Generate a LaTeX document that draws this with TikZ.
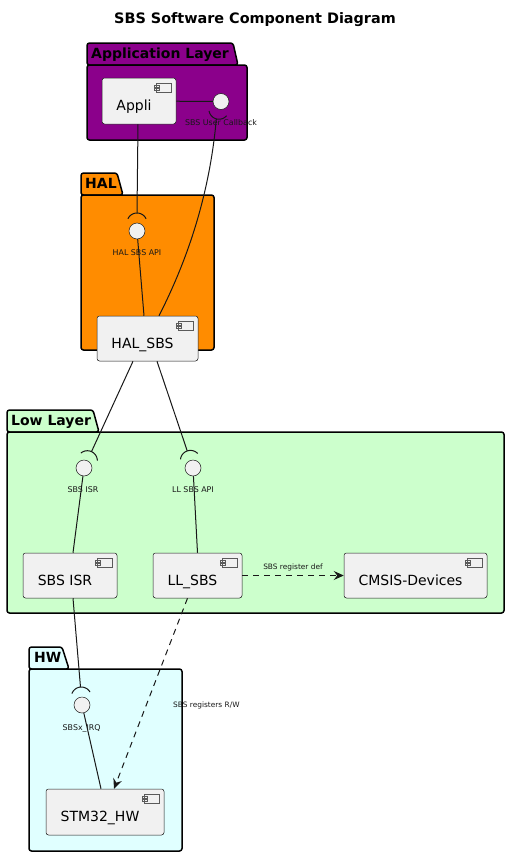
\documentclass[tikz,border=0pt]{standalone}
\usepackage{fontspec}
\setmainfont{DejaVu Sans}
\usetikzlibrary{arrows.meta,calc}
\definecolor{pkgpurple}{HTML}{8B008B}
\definecolor{pkgorange}{HTML}{FF8C00}
\definecolor{pkggreen}{HTML}{CCFFCC}
\definecolor{pkgcyan}{HTML}{E0FFFF}
\definecolor{boxfill}{HTML}{F1F1F1}
\definecolor{ink}{HTML}{181818}
\definecolor{icongrey}{HTML}{5A5A5A}
\newcommand\socketarc[2]{%
  \begin{scope}[shift={(#1.center)}]
    \draw[sock] plot[domain=-65:65, samples=30, variable=\t]
      ({8*cos(#2)+10*cos(#2+\t)},{8*sin(#2)+10*sin(#2+\t)});
    \coordinate (#1-s) at ({18*cos(#2)},{18*sin(#2)});
  \end{scope}}
\tikzset{
  pkg/.style={draw=black, line width=1.5pt, rounded corners=2.5pt, line join=round},
  pkglabel/.style={font=\fontsize{14}{16}\selectfont\bfseries, inner sep=0pt, anchor=base west},
  comptext/.style={font=\fontsize{14}{16}\selectfont, inner sep=0pt, text height=10.5pt, text depth=3pt, xshift=-5pt, yshift=-6pt},
  comp/.style={draw=ink, fill=boxfill, line width=0.5pt, rounded corners=2.5pt, inner sep=0pt,
    path picture={
      \draw[icongrey, line width=0.6pt, sharp corners, fill=boxfill]
        ($(path picture bounding box.north east)+(-19.3,5)$) rectangle ($(path picture bounding box.north east)+(-4.3,14)$)
        ($(path picture bounding box.north east)+(-22,7)$) rectangle ($(path picture bounding box.north east)+(-16.8,9)$)
        ($(path picture bounding box.north east)+(-22,10.5)$) rectangle ($(path picture bounding box.north east)+(-16.8,12.5)$);
    }},
  iface/.style={circle, draw=ink, fill=boxfill, line width=0.5pt, minimum size=16pt, inner sep=0pt},
  ifacelabel/.style={font=\fontsize{7.9}{9}\selectfont, text=ink, inner sep=0pt, anchor=base},
  edgelabel/.style={font=\fontsize{7.4}{9}\selectfont, text=ink, inner sep=0pt},
  conn/.style={draw=ink, line width=1pt},
  sock/.style={draw=ink, line width=1pt},
  dep/.style={draw=ink, line width=1pt, dash pattern=on 6pt off 5pt, -{Stealth[length=10pt,width=9pt,inset=3.5pt]}},
}
\begin{document}
\begin{tikzpicture}[x=1pt,y=-1pt]
\useasboundingbox (0,0) rectangle (510,857);

% title
\node[font=\fontsize{14.4}{16}\selectfont\bfseries, inner sep=0pt, anchor=base] (title) at (255,23.3) {SBS Software Component Diagram};

% packages
\draw[pkg, fill=pkgpurple] (87,65) -- (87,43) -- (233,43) -- (238,65) -- cycle;
\draw[pkg, fill=pkgpurple] (87,65) rectangle (247,140);
\node[pkglabel] (lblapp) at (91,58.3) {Application Layer};

\draw[pkg, fill=pkgorange] (81,195) -- (81,173) -- (117,173) -- (123,195) -- cycle;
\draw[pkg, fill=pkgorange] (81,195) rectangle (214,350);
\node[pkglabel] (lblhal) at (85,188.3) {HAL};

\draw[pkg, fill=pkggreen] (7,432) -- (7,410) -- (93,410) -- (99,432) -- cycle;
\draw[pkg, fill=pkggreen] (7,432) rectangle (504,613);
\node[pkglabel] (lbllow) at (11,425.7) {Low Layer};

\draw[pkg, fill=pkgcyan] (29,669) -- (29,647) -- (62,647) -- (69,669) -- cycle;
\draw[pkg, fill=pkgcyan] (29,669) rectangle (182,851);
\node[pkglabel] (lblhw) at (34,662) {HW};

% components
\node[comp, minimum width=74pt, minimum height=46pt, label={[comptext]center:Appli}] (appli) at (139,101) {};
\node[comp, minimum width=101pt, minimum height=45pt, label={[comptext]center:HAL\_SBS}] (halsbs) at (147.5,338.5) {};
\node[comp, minimum width=94pt, minimum height=45pt, label={[comptext]center:SBS ISR}] (sbsisr) at (70,575.5) {};
\node[comp, minimum width=89pt, minimum height=45pt, label={[comptext]center:LL\_SBS}] (llsbs) at (197.5,575.5) {};
\node[comp, minimum width=143pt, minimum height=45pt, label={[comptext]center:CMSIS-Devices}] (cmsis) at (415.5,575.5) {};
\node[comp, minimum width=118pt, minimum height=46pt, label={[comptext]center:STM32\_HW}] (stm32) at (105,812) {};

% interfaces
\node[iface] (cb) at (221,101.5) {};
\node[iface] (halapi) at (137,231) {};
\node[iface] (isr) at (84,468) {};
\node[iface] (llapi) at (193,468) {};
\node[iface] (irq) at (82,705) {};

% sockets (required side)
\socketarc{cb}{105}
\socketarc{halapi}{-90}
\socketarc{isr}{-65.4}
\socketarc{llapi}{-108.6}
\socketarc{irq}{-94.8}

% interface labels
\node[ifacelabel] (lblcb) at (221,125.7) {SBS User Callback};
\node[ifacelabel] (lblhalapi) at (137,255.7) {HAL SBS API};
\node[ifacelabel] (lblisr) at (83,492.5) {SBS ISR};
\node[ifacelabel] (lblllapi) at (193,492.5) {LL SBS API};
\node[ifacelabel] (lblirq) at (81.7,730) {SBSx\_IRQ};

% connectors
\draw[conn] (appli) -- (cb);
\draw[conn] ($(appli.south)+(-1,0)$) -- (halapi-s);
\draw[conn] (halapi) -- ($(halsbs.north)+(-3.5,0)$);
\draw[conn] (cb-s) .. controls (210,190) and (190,255) .. ($(halsbs.north)+(11.5,0)$);
\draw[conn] ($(halsbs.south)+(-14.5,0)$) -- (isr-s);
\draw[conn] ($(halsbs.south)+(9.5,0)$) -- (llapi-s);
\draw[conn] (isr) -- ($(sbsisr.north)+(3,0)$);
\draw[conn] (llapi) -- (llsbs.north);
\draw[conn] ($(sbsisr.south)+(3,0)$) -- (irq-s);
\draw[conn] (irq) -- ($(stm32.north)+(-4,0)$);
\draw[dep] (llsbs) -- (cmsis) node[edgelabel, midway, anchor=base, yshift=6.5pt] (lbldef) {SBS register def};
\draw[dep] ($(llsbs.south)+(-10,0)$) -- ($(stm32.north)+(9,0)$);
\node[edgelabel, anchor=base west] (lblrw) at (173,707.7) {SBS registers R/W};
\end{tikzpicture}
\end{document}
